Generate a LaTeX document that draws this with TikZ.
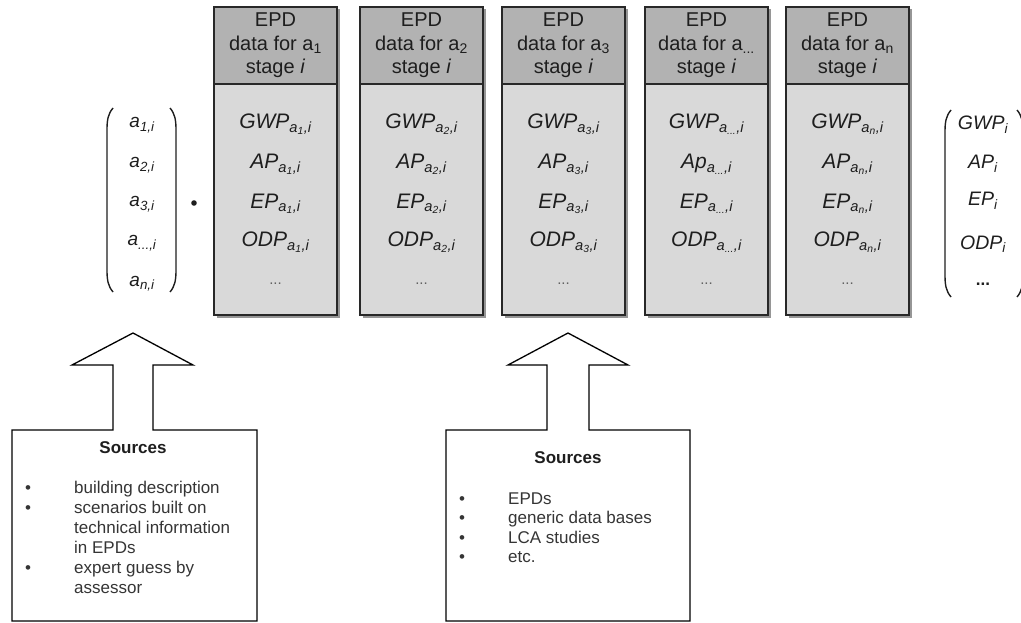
\documentclass[tikz,border=0pt]{standalone}
\usepackage{fontspec}
\setmainfont{Liberation Sans}
\definecolor{hdrgray}{RGB}{178,178,178}
\definecolor{bodygray}{RGB}{217,217,217}
\definecolor{boxline}{RGB}{40,40,40}
\definecolor{shadowgray}{RGB}{150,150,150}
\definecolor{txt}{RGB}{30,30,30}
\newcommand{\sbs}[1]{\textsubscript{#1}}
\begin{document}
\begin{tikzpicture}[x=1pt,y=-1pt,
  hdr/.style={draw=boxline, line width=1.6pt, fill=hdrgray, minimum width=123pt, minimum height=77pt, inner sep=0pt, align=center, font=\fontsize{20}{23.5}\selectfont, text=txt},
  bodybox/.style={draw=boxline, line width=1.6pt, fill=bodygray, minimum width=123pt, minimum height=231pt, inner sep=0pt},
  entry/.style={font=\fontsize{21}{24}\selectfont\itshape, text=txt, inner sep=0pt, anchor=base},
  dots/.style={font=\fontsize{15}{16}\selectfont, text=txt!70, inner sep=0pt, anchor=base},
  vec/.style={font=\fontsize{19}{22}\selectfont\itshape, text=txt, inner sep=0pt, anchor=base},
  paren/.style={draw=txt, line width=1.4pt},
  outl/.style={draw=black, line width=1.3pt, fill=white, line join=miter},
  srctitle/.style={font=\fontsize{17}{20}\selectfont\bfseries, text=txt, inner sep=0pt},
  srclist/.style={font=\fontsize{17}{20}\selectfont, text=txt!90, inner sep=0pt, anchor=base west}
]
\useasboundingbox (0,0) rectangle (1021,623);

% ---- left vector ----
\draw[paren] (113,108) .. controls (108,114) and (107,120) .. (107,130) -- (107,270) .. controls (107,280) and (108,286) .. (113,292);
\draw[paren] (170,108) .. controls (175,114) and (176,120) .. (176,130) -- (176,270) .. controls (176,280) and (175,286) .. (170,292);
\node[vec] (v1) at (142,128) {a\sbs{1,i}};
\node[vec] (v2) at (142,168) {a\sbs{2,i}};
\node[vec] (v3) at (142,207) {a\sbs{3,i}};
\node[vec] (v4) at (142,246) {a\sbs{...,i}};
\node[vec] (v5) at (142,286) {a\sbs{n,i}};
\fill[txt] (194,203) circle (2.8pt);

% ---- EPD columns ----
\foreach \cx in {275.5,421.5,563.5,706.5,847.5}{
  \fill[shadowgray] (\cx-61.5+2.5,7+2.5) rectangle (\cx+61.5+2.5,315+2.5);
}
\node[bodybox] (b1) at (275.5,199.5) {};
\node[hdr] (h1) at (275.5,45.5) {EPD\\data for a\sbs{1}\\stage \textit{i}};
\node[entry] (g1) at (275.5,129) {GWP\sbs{a\sbs{1},i}};
\node[entry] (p1) at (275.5,169) {AP\sbs{a\sbs{1},i}};
\node[entry] (e1) at (275.5,208) {EP\sbs{a\sbs{1},i}};
\node[entry] (o1) at (275.5,247) {ODP\sbs{a\sbs{1},i}};
\node[dots] (d1) at (275.5,284) {...};

\node[bodybox] (b2) at (421.5,199.5) {};
\node[hdr] (h2) at (421.5,45.5) {EPD\\data for a\sbs{2}\\stage \textit{i}};
\node[entry] (g2) at (421.5,129) {GWP\sbs{a\sbs{2},i}};
\node[entry] (p2) at (421.5,169) {AP\sbs{a\sbs{2},i}};
\node[entry] (e2) at (421.5,208) {EP\sbs{a\sbs{2},i}};
\node[entry] (o2) at (421.5,247) {ODP\sbs{a\sbs{2},i}};
\node[dots] (d2) at (421.5,284) {...};

\node[bodybox] (b3) at (563.5,199.5) {};
\node[hdr] (h3) at (563.5,45.5) {EPD\\data for a\sbs{3}\\stage \textit{i}};
\node[entry] (g3) at (563.5,129) {GWP\sbs{a\sbs{3},i}};
\node[entry] (p3) at (563.5,169) {AP\sbs{a\sbs{3},i}};
\node[entry] (e3) at (563.5,208) {EP\sbs{a\sbs{3},i}};
\node[entry] (o3) at (563.5,247) {ODP\sbs{a\sbs{3},i}};
\node[dots] (d3) at (563.5,284) {...};

\node[bodybox] (b4) at (706.5,199.5) {};
\node[hdr] (h4) at (706.5,45.5) {EPD\\data for a\sbs{...}\\stage \textit{i}};
\node[entry] (g4) at (706.5,129) {GWP\sbs{a\sbs{...},i}};
\node[entry] (p4) at (706.5,169) {Ap\sbs{a\sbs{...},i}};
\node[entry] (e4) at (706.5,208) {EP\sbs{a\sbs{...},i}};
\node[entry] (o4) at (706.5,247) {ODP\sbs{a\sbs{...},i}};
\node[dots] (d4) at (706.5,284) {...};

\node[bodybox] (b5) at (847.5,199.5) {};
\node[hdr] (h5) at (847.5,45.5) {EPD\\data for a\sbs{n}\\stage \textit{i}};
\node[entry] (g5) at (847.5,129) {GWP\sbs{a\sbs{n},i}};
\node[entry] (p5) at (847.5,169) {AP\sbs{a\sbs{n},i}};
\node[entry] (e5) at (847.5,208) {EP\sbs{a\sbs{n},i}};
\node[entry] (o5) at (847.5,247) {ODP\sbs{a\sbs{n},i}};
\node[dots] (d5) at (847.5,284) {...};

% ---- right vector ----
\draw[paren] (951,110) .. controls (946,116) and (945,122) .. (945,132) -- (945,275) .. controls (945,285) and (946,291) .. (951,297);
\draw[paren] (1017,110) .. controls (1022,116) and (1023,122) .. (1023,132) -- (1023,275) .. controls (1023,285) and (1022,291) .. (1017,297);
\node[vec,font=\fontsize{19.5}{22}\selectfont\itshape] (r1) at (983,130) {GWP\sbs{i}};
\node[vec,font=\fontsize{19.5}{22}\selectfont\itshape] (r2) at (983,169) {AP\sbs{i}};
\node[vec,font=\fontsize{19.5}{22}\selectfont\itshape] (r3) at (983,206) {EP\sbs{i}};
\node[vec,font=\fontsize{19.5}{22}\selectfont\itshape] (r4) at (983,249) {ODP\sbs{i}};
\node[vec,font=\fontsize{17}{22}\selectfont\bfseries] (r5) at (983,285) {...};

% ---- source box 1 with arrow ----
\draw[outl] (113,430) -- (12,430) -- (12,621) -- (257,621) -- (257,430) -- (153,430) -- (153,365) -- (193,365) -- (133,333) -- (72,365) -- (113,365) -- cycle;
\node[srctitle] (s1) at (133,448) {Sources};
\node[srclist] (l1) at (25,493) {\begin{tabular}[t]{@{}p{49pt}@{}l@{}}
•& building description\\
•& scenarios built on\\
 & technical information\\
 & in EPDs\\
•& expert guess by\\
 & assessor
\end{tabular}};

% ---- source box 2 with arrow ----
\draw[outl] (547,430) -- (446,430) -- (446,621) -- (690,621) -- (690,430) -- (589,430) -- (589,365) -- (628,365) -- (568,333) -- (508,365) -- (547,365) -- cycle;
\node[srctitle] (s2) at (568,458) {Sources};
\node[srclist,font=\fontsize{17}{19.5}\selectfont] (l2) at (459,504) {\begin{tabular}[t]{@{}p{49pt}@{}l@{}}
•& EPDs\\
•& generic data bases\\
•& LCA studies\\
•& etc.
\end{tabular}};
\end{tikzpicture}
\end{document}
